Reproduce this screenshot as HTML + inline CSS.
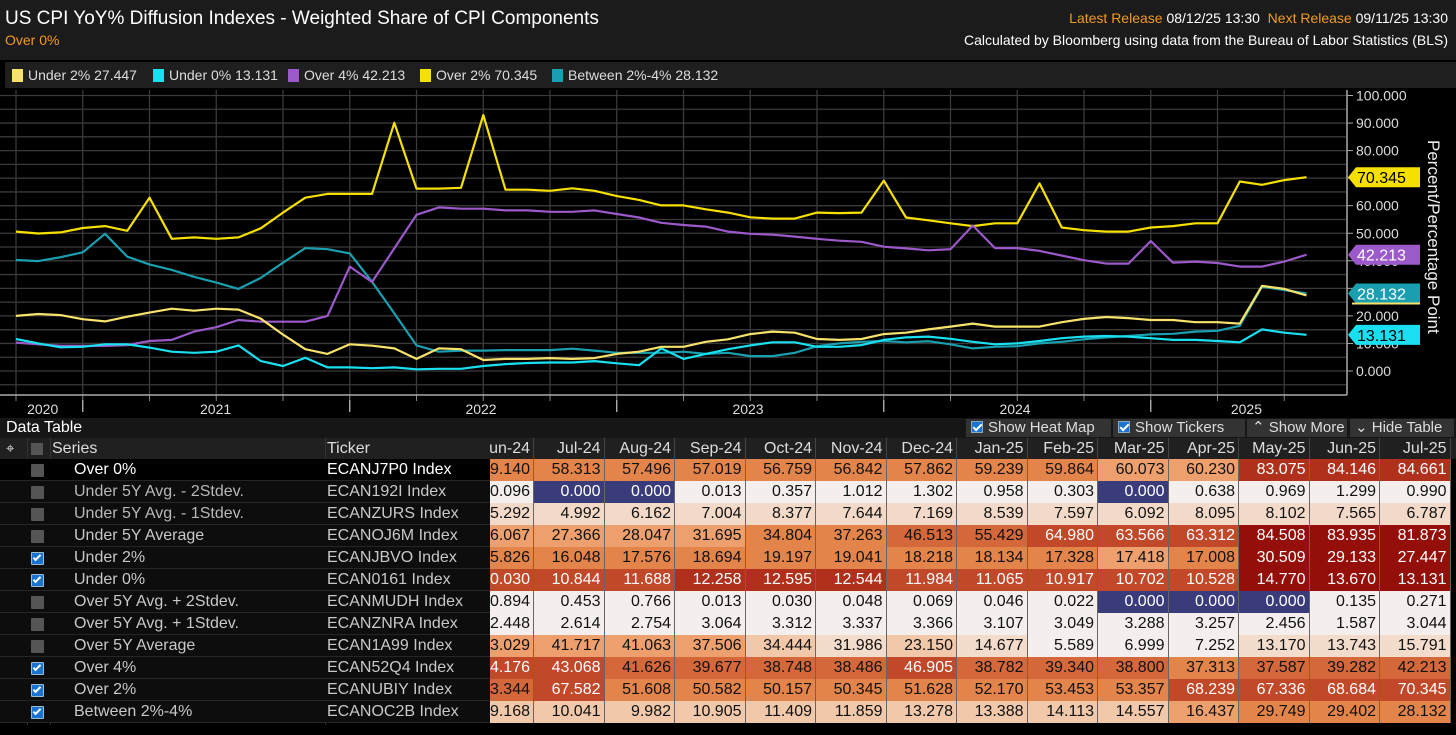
<!DOCTYPE html>
<html><head><meta charset="utf-8">
<style>
*{margin:0;padding:0;box-sizing:border-box}
body{width:1456px;height:735px;background:#000;font-family:"Liberation Sans",sans-serif;overflow:hidden;position:relative;color:#fff}
.abs{position:absolute}
#hdr{left:0;top:0;width:1456px;height:60px;background:#1b1b1b}
#leg{left:5px;top:62px;width:1451px;height:26px;background:#1f1f1f}
.li{position:absolute;top:5px;font-size:14px;color:#ddd;white-space:nowrap}
.li i{display:inline-block;width:11px;height:13px;vertical-align:-2px;margin-right:5px}
#tb{left:0;top:418px;width:1456px;height:20px;background:#161616}
.btn{position:absolute;top:1px;height:18px;background:#333;color:#ddd;font-size:15px;line-height:18px;padding-left:5px;white-space:nowrap}
.cb{display:inline-block;width:12px;height:12px;background:#1a73d0;border:1px solid #8ab;vertical-align:-1px;margin-right:5px;position:relative}
.cb:after{content:"";position:absolute;left:3px;top:0px;width:3px;height:7px;border:solid #fff;border-width:0 2px 2px 0;transform:rotate(45deg)}
.cell{position:absolute;height:22px;line-height:22px;font-size:16px;white-space:nowrap;overflow:hidden}
</style></head><body>
<div id="hdr" class="abs">
 <div class="abs" style="left:5px;top:8px;font-size:19px;color:#fff">US CPI YoY% Diffusion Indexes - Weighted Share of CPI Components</div>
 <div class="abs" style="left:5px;top:32px;font-size:14px;color:#f39a1e">Over 0%</div>
 <div class="abs" style="right:8px;top:10px;font-size:14px;white-space:nowrap"><span style="color:#f39a1e">Latest Release</span> <span style="color:#fff">08/12/25 13:30</span>&nbsp; <span style="color:#f39a1e">Next Release</span> <span style="color:#fff">09/11/25 13:30</span></div>
 <div class="abs" style="right:8px;top:32px;font-size:14px;color:#fff;white-space:nowrap">Calculated by Bloomberg using data from the Bureau of Labor Statistics (BLS)</div>
</div>
<div id="leg" class="abs">
 <div class="li" style="left:7px"><i style="background:#f7e26b"></i>Under 2% 27.447</div>
 <div class="li" style="left:148px"><i style="background:#19e0f0"></i>Under 0% 13.131</div>
 <div class="li" style="left:283px"><i style="background:#9b59c9"></i>Over 4% 42.213</div>
 <div class="li" style="left:415px"><i style="background:#f5e000"></i>Over 2% 70.345</div>
 <div class="li" style="left:547px"><i style="background:#1a9fb0"></i>Between 2%-4% 28.132</div>
</div>
<svg id="chart" class="abs" style="left:0;top:0" width="1456" height="418"></svg>
<div id="tb" class="abs">
 <div class="abs" style="left:6px;top:1px;font-size:16px;color:#fff">Data Table</div>
 <div class="btn" style="left:966px;width:145px"><span class="cb"></span>Show Heat Map</div>
 <div class="btn" style="left:1113px;width:132px"><span class="cb"></span>Show Tickers</div>
 <div class="btn" style="left:1247px;width:100px">&#8963; Show More</div>
 <div class="btn" style="left:1350px;width:104px">&#8964; Hide Table</div>
</div>
<div id="table" class="abs" style="left:0;top:438px;width:1456px;height:297px"></div>
<script>
// ---- chart data ----
const seriesNames = ["Under 2%","Under 0%","Over 4%","Over 2%","Between 2%-4%"];
const under2 = [20.0,20.7,20.3,18.8,18.0,19.7,21.2,22.6,21.9,22.6,22.3,19.0,13.2,7.9,6.2,9.7,9.2,8.2,4.4,8.2,7.9,4.0,4.4,4.4,4.7,4.4,4.7,6.2,7.0,8.8,8.8,10.6,11.5,13.4,14.3,13.9,11.6,11.3,11.6,13.4,13.9,15.1,16.1,17.2,16.1,16.1,16.1,17.7,18.9,19.6,19.2,18.5,18.5,17.7,17.7,17.2,30.9,29.8,27.447];
const under0 = [11.6,10.0,8.6,8.8,9.7,9.7,8.5,7.0,6.6,7.0,9.3,3.6,1.8,4.8,1.3,1.3,1.0,1.3,0.6,0.8,0.8,1.8,2.5,2.9,3.1,3.1,3.6,2.8,2.1,8.2,4.4,6.2,7.9,9.3,10.4,10.4,8.8,8.8,9.4,11.3,12.2,12.5,11.7,10.6,9.7,10.0,10.9,11.9,12.5,12.7,12.5,11.9,11.3,11.3,10.9,10.4,15.1,13.9,13.131];
const over4 = [10.3,9.7,9.1,9.1,9.1,9.4,10.9,11.3,14.3,15.9,18.5,17.9,17.9,17.9,20.0,37.9,32.3,44.5,56.7,59.4,58.9,58.9,58.3,58.3,57.8,57.8,58.3,57.0,55.7,53.8,53.0,52.4,50.6,49.8,49.5,48.8,48.0,47.3,46.9,45.1,44.5,43.8,44.2,52.8,44.6,44.6,43.6,41.9,40.2,39.0,39.0,47.2,39.3,39.7,39.2,37.9,37.9,39.7,42.213];
const over2 = [50.6,49.9,50.3,51.9,52.6,50.9,62.9,48.0,48.5,48.0,48.5,51.8,57.5,62.9,64.3,64.3,64.3,90.1,66.2,66.2,66.5,92.9,65.8,65.8,65.4,66.3,65.4,63.5,62.1,60.1,60.1,58.7,57.5,55.8,55.3,55.3,57.5,57.3,57.5,69.1,55.7,54.7,53.6,52.6,53.6,53.6,68.1,52.1,51.1,50.6,50.6,52.1,52.6,53.6,53.6,68.8,67.6,69.3,70.345];
const between = [40.3,39.9,41.3,43.1,49.8,41.5,38.7,36.7,34.2,32.1,29.8,33.8,39.3,44.6,44.2,42.7,32.4,20.9,9.3,7.0,7.4,7.4,7.6,7.6,7.6,8.1,7.4,6.6,6.6,6.6,7.0,6.2,6.6,5.4,5.4,6.6,9.0,10.0,10.6,10.9,10.4,10.8,9.7,8.2,8.8,9.0,10.0,10.6,11.5,12.2,12.7,13.3,13.5,14.3,14.6,16.4,30.6,29.4,28.132];
const yTicks = [0,10,20,30,40,50,60,70,80,90,100];
const yearLabels = ["2020","2021","2022","2023","2024","2025"];
const yearIdx = [1.2,8.97,20.9,32.9,44.9,55.3];

const NS="http://www.w3.org/2000/svg";
const svg=document.getElementById('chart');
const X0=16, DX=22.25, Y0=371, KY=2.755;
function xS(i){return X0+DX*i;}
function yS(v){return Y0-KY*v;}
function mk(tag,attrs,parent){const e=document.createElementNS(NS,tag);for(const k in attrs)e.setAttribute(k,attrs[k]);(parent||svg).appendChild(e);return e;}

let bg=mk('rect',{x:0,y:88,width:1456,height:330,fill:'#000'});


for(let v=-5;v<=100;v+=5){
  const g=mk('line',{x1:0,x2:1346,y1:yS(v),y2:yS(v),stroke:'#3a3a3a','stroke-width':1.3});
  
  
}
for(let k=0;k<20;k++){
  const x=xS(3*k);
  const g=mk('line',{x1:x,x2:x,y1:90,y2:395,stroke:'#3a3a3a','stroke-width':1.3});
  
  
  const t=mk('line',{x1:x,x2:x,y1:395,y2:401,stroke:'#888','stroke-width':1});
  
  
}
for(let k=0;k<5;k++){
  const x=xS(3+12*k);
  const t=mk('line',{x1:x,x2:x,y1:400,y2:412,stroke:'#bbb','stroke-width':1.3});
  
  
}
let ax=mk('line',{x1:0,x2:1347,y1:395,y2:395,stroke:'#aaa','stroke-width':1.5});


let ay=mk('line',{x1:1347,x2:1347,y1:90,y2:395,stroke:'#aaa','stroke-width':1.5});


yearLabels.forEach((lab,j)=>{
  const t=mk('text',{x:xS(yearIdx[j]),y:414,fill:'#ddd','font-size':14,'text-anchor':'middle','font-family':'Liberation Sans'});
  t.textContent=lab;
  
  
});
yTicks.forEach(v=>{
  const tk=mk('line',{x1:1347,x2:1353,y1:yS(v),y2:yS(v),stroke:'#aaa','stroke-width':1});
  
  
  const t=mk('text',{x:1356,y:yS(v)+5,fill:'#ddd','font-size':14,'font-family':'Liberation Sans'});
  t.textContent=v.toFixed(3);
  
  
});
let yt=mk('text',{x:0,y:0,fill:'#eee','font-size':17,'font-family':'Liberation Sans',transform:'translate(1428,140) rotate(90)'});
yt.textContent='Percent/Percentage Point';



const seriesData=[under2,under0,over4,over2,between];
const colors=['#f7e26b','#19e0f0','#9b59c9','#f5e000','#1a9fb0'];
const slugs=['under-2','under-0','over-4','over-2','between-2-4'];
[4,3,2,1,0].forEach(s=>{
  const d=seriesData[s].map((v,i)=>(i?'L':'M')+xS(i).toFixed(1)+','+yS(v).toFixed(1)).join('');
  const p=mk('path',{d:d,fill:'none',stroke:colors[s],'stroke-width':2.2,'stroke-linejoin':'round'});
  
  
});
const tagSeries=[3,2,4,1];
const tagText=['#000','#fff','#fff','#000'];
tagSeries.forEach((s,j)=>{
  const arr=seriesData[s];const v=arr[arr.length-1];const y=yS(v);
  const g=mk('g',{});
  
  
  mk('polygon',{points:`1348,${y} 1356,${y-10} 1420,${y-10} 1420,${y+10} 1356,${y+10}`,fill:colors[s]},g);
  if(s===4) mk('line',{x1:1352,x2:1420,y1:y+10,y2:y+10,stroke:'#f7e26b','stroke-width':2},g);
  const t=mk('text',{x:1357,y:y+6,fill:tagText[j],'font-size':16,'font-family':'Liberation Sans'},g);
  t.textContent=v.toFixed(3);
});

// ---- table data ----
const months=["Jun-24","Jul-24","Aug-24","Sep-24","Oct-24","Nov-24","Dec-24","Jan-25","Feb-25","Mar-25","Apr-25","May-25","Jun-25","Jul-25"];
const rowNames=["Over 0%","Under 5Y Avg. - 2Stdev.","Under 5Y Avg. - 1Stdev.","Under 5Y Average","Under 2%","Under 0%","Over 5Y Avg. + 2Stdev.","Over 5Y Avg. + 1Stdev.","Over 5Y Average","Over 4%","Over 2%","Between 2%-4%"];
const tickers=["ECANJ7P0 Index","ECAN192I Index","ECANZURS Index","ECANOJ6M Index","ECANJBVO Index","ECAN0161 Index","ECANMUDH Index","ECANZNRA Index","ECAN1A99 Index","ECAN52Q4 Index","ECANUBIY Index","ECANOC2B Index"];
const checked=[0,0,0,0,1,1,0,0,0,1,1,1];
const r1=[59.140,58.313,57.496,57.019,56.759,56.842,57.862,59.239,59.864,60.073,60.230,83.075,84.146,84.661];
const r2=[0.096,0.000,0.000,0.013,0.357,1.012,1.302,0.958,0.303,0.000,0.638,0.969,1.299,0.990];
const r3=[5.292,4.992,6.162,7.004,8.377,7.644,7.169,8.539,7.597,6.092,8.095,8.102,7.565,6.787];
const r4=[26.067,27.366,28.047,31.695,34.804,37.263,46.513,55.429,64.980,63.566,63.312,84.508,83.935,81.873];
const r5=[15.826,16.048,17.576,18.694,19.197,19.041,18.218,18.134,17.328,17.418,17.008,30.509,29.133,27.447];
const r6=[10.030,10.844,11.688,12.258,12.595,12.544,11.984,11.065,10.917,10.702,10.528,14.770,13.670,13.131];
const r7=[0.894,0.453,0.766,0.013,0.030,0.048,0.069,0.046,0.022,0.000,0.000,0.000,0.135,0.271];
const r8=[2.448,2.614,2.754,3.064,3.312,3.337,3.366,3.107,3.049,3.288,3.257,2.456,1.587,3.044];
const r9=[43.029,41.717,41.063,37.506,34.444,31.986,23.150,14.677,5.589,6.999,7.252,13.170,13.743,15.791];
const r10=[44.176,43.068,41.626,39.677,38.748,38.486,46.905,38.782,39.340,38.800,37.313,37.587,39.282,42.213];
const r11=[63.344,67.582,51.608,50.582,50.157,50.345,51.628,52.170,53.453,53.357,68.239,67.336,68.684,70.345];
const r12=[9.168,10.041,9.982,10.905,11.409,11.859,13.278,13.388,14.113,14.557,16.437,29.749,29.402,28.132];
const rows=[r1,r2,r3,r4,r5,r6,r7,r8,r9,r10,r11,r12];
const heat=["OOOOOOOOOooRRR","WNNWWWWWWNWWWW","PPPPPPPPPPPPPP","ooooOO33rrrDDD","OOOOOOOOOoODDD","rrrRRRrrrrrDDD","WWWWWWWWWNNNWW","WWWWWWWWWWWWWW","oooopqpqWWWqqq","rr3333r333O333","3rOOOOOOOOrrrr","ppppppppppoOOO"];
const pal={O:'#e3844b',o:'#eda06e','3':'#d5683a',r:'#c2482a',R:'#b0301c',D:'#940e0a',W:'#f4efec',N:'#3a3b7a',P:'#f3dac8',p:'#f1c9aa',q:'#f3dccc'};
const whiteTxt='rRDN';

const tb=document.getElementById('table');
function div(style,text,parent){const d=document.createElement('div');d.className='cell';d.style.cssText=style;if(text!==undefined)d.textContent=text;(parent||tb).appendChild(d);return d;}
let hr=div('left:0;top:0;width:1456px;height:21px;background:#202020;');


let hi=div('left:6px;top:0;font-size:15px;color:#ddd','⌖');


let hcb=div('left:31px;top:5px;width:12px;height:12px;background:#555;');


let hs=div('left:52px;top:0;line-height:21px;color:#ddd','Series');


let ht=div('left:327px;top:0;line-height:21px;color:#ddd','Ticker');


[27,50,325].forEach(x=>{const s=div(`left:${x}px;top:0;width:1px;height:287px;background:#333`);
  
  });
const dv=document.createElement('div');
dv.style.cssText='position:absolute;left:490px;top:0;width:966px;height:287px;overflow:hidden';
tb.appendChild(dv);


const CW=70.5, C0=-26.5;
months.forEach((m,j)=>{
  const h=div(`left:${C0+CW*j}px;top:0;width:${CW}px;line-height:21px;text-align:right;padding-right:3px;color:#ddd;border-right:1px solid #444`,m,dv);
  
  
});
rows.forEach((r,i)=>{
  const top=21+22*i;
  const rb=div(`left:0;top:${top}px;width:490px;background:${i===0?'#000':'#0d0d0d'};border-bottom:1px solid #262626`);
  
  
  const cb=div(`left:31px;top:${top+5}px;width:13px;height:13px;background:${checked[i]?'#1a73d0':'#555'};border-radius:1px;${checked[i]?'border:1px solid #9bc':''}`);
  if(checked[i]) cb.innerHTML='<span style="position:absolute;left:3px;top:0;width:4px;height:8px;border:solid #fff;border-width:0 2px 2px 0;transform:rotate(45deg)"></span>';
  
  
  const nm=div(`left:74px;top:${top}px;color:${i===0?'#fff':(i<3?'#b8b8b8':'#c8c8c8')}`,rowNames[i]);
  
  
  const tk=div(`left:327px;top:${top}px;color:${i===0?'#fff':'#c8c8c8'}`,tickers[i]);
  
  
  r.forEach((v,j)=>{
    const c=heat[i][j]||'O';
    const cell=div(`left:${C0+CW*j}px;top:${top}px;width:${CW}px;text-align:right;padding-right:3px;background:${pal[c]};color:${whiteTxt.includes(c)?'#fff':'#111'};border-right:1px solid #666`,v.toFixed(3),dv);
    
    
  });
});
</script>
</body></html>
